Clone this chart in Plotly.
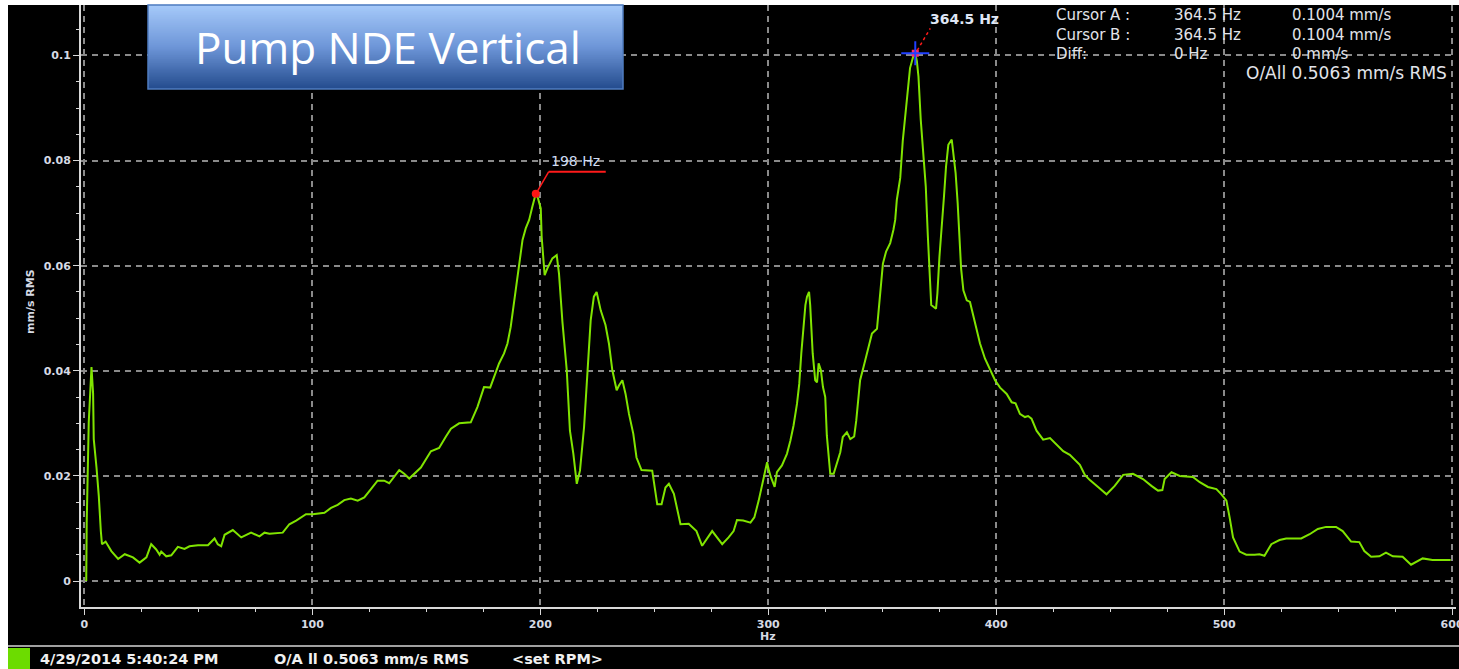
import plotly.graph_objects as go

W, H = 1459, 669

# ---- spectrum data (Hz, mm/s RMS) ----
freq_hz = [
    0.8, 1.0, 1.9, 3.1, 3.8, 4.1, 5.3, 6.3, 7.2, 7.7, 9.3, 11.8, 14.8, 17.7, 21.3,
    24.2, 27.2, 29.3, 31.5, 33.0, 33.7, 35.9, 38.1, 41.0, 43.9, 46.1, 49.8, 54.2,
    57.1, 58.5, 60.0, 61.5, 65.1, 68.8, 73.1, 76.8, 79.0, 81.2, 87.0, 89.9, 92.9,
    97.2, 100.2, 105.3, 108.2, 111.1, 114.0, 116.9, 119.9, 122.8, 125.7, 128.6,
    131.5, 133.7, 138.1, 140.3, 142.5, 144.7, 147.6, 152.0, 155.6, 158.6, 160.8,
    164.4, 169.5, 172.4, 175.3, 178.0, 180.5, 181.9, 184.1, 185.6, 187.0, 188.0,
    189.2, 190.2, 191.1, 192.2, 193.6, 195.1, 196.5, 198.0, 199.0, 200.2, 200.6,
    201.9, 203.1, 205.3, 207.2, 208.2, 209.7, 211.6, 213.0, 214.5, 216.0, 217.4,
    219.2, 220.6, 222.1, 223.5, 224.7, 226.5, 228.6, 230.1, 231.6, 233.5, 234.5,
    236.0, 237.4, 238.9, 240.8, 242.2, 244.4, 249.1, 251.3, 253.2, 254.9, 256.4,
    258.6, 261.5, 265.1, 268.5, 271.0, 275.4, 279.8, 282.6, 284.8, 286.3, 289.0,
    292.2, 293.9, 295.8, 297.3, 298.7, 299.5, 300.3, 301.2, 302.8, 303.8, 306.0,
    308.2, 309.7, 311.1, 312.6, 313.6, 314.5, 315.5, 316.3, 317.0, 317.9, 318.4,
    319.5, 320.6, 321.4, 322.1, 323.1, 324.0, 325.0, 325.7, 326.5, 327.2, 328.7,
    330.1, 331.6, 332.7, 334.5, 336.0, 337.7, 338.6, 339.6, 340.3, 341.8, 343.3,
    344.5, 345.5, 347.7, 348.4, 349.4, 350.3, 351.7, 353.5, 354.9, 355.7, 356.4,
    357.9, 359.0, 360.1, 361.1, 362.2, 363.6, 364.5, 365.2, 365.9, 366.9, 368.0,
    369.1, 370.0, 371.0, 371.5, 373.6, 374.2, 375.1, 376.1, 377.1, 378.0, 379.0,
    380.5, 381.2, 382.2, 383.1, 383.8, 384.6, 385.6, 387.1, 388.5, 390.0, 391.4,
    392.9, 395.1, 397.3, 399.5, 401.7, 404.6, 406.8, 408.5, 410.4, 412.6, 414.0,
    415.5, 417.7, 420.6, 423.6, 426.5, 429.4, 432.3, 436.7, 438.9, 441.1, 444.7,
    448.4, 452.0, 455.7, 460.0, 464.4, 468.1, 471.0, 472.9, 473.9, 476.9, 480.5,
    486.3, 489.3, 492.9, 496.6, 498.8, 501.0, 502.4, 503.9, 506.8, 509.7, 513.4,
    515.5, 517.7, 520.7, 524.3, 527.2, 533.8, 537.5, 541.1, 544.7, 549.1, 552.0,
    555.7, 559.3, 561.5, 564.5, 568.1, 571.0, 574.0, 578.3, 582.0, 587.1, 591.4,
    599.4,
]
amp_mm_s = [
    0.0, 0.0109, 0.0302, 0.0407, 0.0357, 0.0270, 0.0216, 0.0162, 0.0095, 0.0070,
    0.0075, 0.0057, 0.0042, 0.0051, 0.0045, 0.0035, 0.0045, 0.0070, 0.0060, 0.0050,
    0.0056, 0.0047, 0.0049, 0.0065, 0.0061, 0.0066, 0.0068, 0.0068, 0.0081, 0.0070,
    0.0066, 0.0088, 0.0097, 0.0083, 0.0092, 0.0085, 0.0092, 0.0090, 0.0092, 0.0108,
    0.0115, 0.0127, 0.0127, 0.0130, 0.0139, 0.0145, 0.0154, 0.0157, 0.0153, 0.0159,
    0.0175, 0.0191, 0.0191, 0.0186, 0.0211, 0.0204, 0.0195, 0.0204, 0.0216, 0.0247,
    0.0253, 0.0275, 0.0290, 0.0300, 0.0302, 0.0331, 0.0369, 0.0368, 0.0399, 0.0414,
    0.0433, 0.0452, 0.0483, 0.0515, 0.0558, 0.0585, 0.0620, 0.0649, 0.0671, 0.0687,
    0.0712, 0.0737, 0.0728, 0.0709, 0.0655, 0.0582, 0.0595, 0.0614, 0.0620, 0.0585,
    0.0493, 0.0401, 0.0286, 0.0242, 0.0185, 0.0210, 0.0293, 0.0394, 0.0496, 0.0541,
    0.0550, 0.0515, 0.0487, 0.0452, 0.0401, 0.0363, 0.0372, 0.0382, 0.0356, 0.0318,
    0.0280, 0.0235, 0.0211, 0.0210, 0.0146, 0.0146, 0.0178, 0.0185, 0.0166, 0.0108,
    0.0109, 0.0095, 0.0067, 0.0095, 0.0070, 0.0083, 0.0095, 0.0116, 0.0115, 0.0111,
    0.0121, 0.0153, 0.0185, 0.0210, 0.0226, 0.0210, 0.0197, 0.0179, 0.0207, 0.0220,
    0.0242, 0.0267, 0.0296, 0.0337, 0.0375, 0.0433, 0.0480, 0.0525, 0.0541, 0.0550,
    0.0525, 0.0433, 0.0382, 0.0378, 0.0414, 0.0401, 0.0369, 0.0350, 0.0277, 0.0242,
    0.0204, 0.0204, 0.0223, 0.0245, 0.0274, 0.0283, 0.0270, 0.0275, 0.0305, 0.0344,
    0.0382, 0.0407, 0.0431, 0.0455, 0.0471, 0.0480, 0.0515, 0.0563, 0.0604, 0.0627,
    0.0643, 0.0668, 0.0687, 0.0725, 0.0767, 0.0837, 0.0881, 0.0932, 0.0976, 0.0998,
    0.1004, 0.0989, 0.0960, 0.0878, 0.0814, 0.0751, 0.0658, 0.0582, 0.0525, 0.0518,
    0.0547, 0.0617, 0.0668, 0.0732, 0.0789, 0.0830, 0.0840, 0.0817, 0.0776, 0.0719,
    0.0665, 0.0595, 0.0553, 0.0534, 0.0531, 0.0503, 0.0474, 0.0452, 0.0423, 0.0401,
    0.0382, 0.0368, 0.0356, 0.0340, 0.0338, 0.0318, 0.0312, 0.0314, 0.0309, 0.0286,
    0.0269, 0.0272, 0.0260, 0.0247, 0.0240, 0.0221, 0.0202, 0.0192, 0.0179, 0.0165,
    0.0181, 0.0202, 0.0204, 0.0194, 0.0181, 0.0172, 0.0173, 0.0194, 0.0207, 0.0200,
    0.0198, 0.0188, 0.0179, 0.0175, 0.0165, 0.0153, 0.0121, 0.0083, 0.0056, 0.0050,
    0.0050, 0.0051, 0.0048, 0.0070, 0.0078, 0.0081, 0.0081, 0.0089, 0.0099, 0.0103,
    0.0103, 0.0095, 0.0075, 0.0074, 0.0057, 0.0046, 0.0047, 0.0054, 0.0047, 0.0046,
    0.0031, 0.0043, 0.0040, 0.0040,
]

# axis ticks
x_ticks = [0, 100, 200, 300, 400, 500, 600]
x_tick_text = ["0", "100", "200", "300", "400", "500", "600"]
y_ticks = [0, 0.02, 0.04, 0.06, 0.08, 0.1]
y_tick_text = ["0", "0.02", "0.04", "0.06", "0.08", "0.1"]

# harmonic marker and cursors
marker_hz = 198.0
cursor_a = (364.5, 0.1004)
cursor_b = (364.5, 0.1004)
overall_rms = 0.5063
status_time = "4/29/2014 5:40:24 PM"
chart_title = "Pump NDE Vertical"

marker_amp = amp_mm_s[freq_hz.index(marker_hz)]


def fx(x):
    return x / W


def fy(y):
    return 1 - y / H


TXT = "#d6dae4"
AX = "#d8d8d8"
GRID = "#8a8a8a"
TICKFONT = dict(family="DejaVu Sans", size=11, color=TXT, weight="bold")

fig = go.Figure()

fig.add_trace(go.Scatter(
    x=freq_hz, y=amp_mm_s, mode="lines",
    line=dict(color="#80e400", width=2), hoverinfo="skip", showlegend=False,
))
fig.add_trace(go.Scatter(
    x=[marker_hz], y=[marker_amp], mode="markers",
    marker=dict(color="#ff1414", size=8, symbol="circle"),
    hoverinfo="skip", showlegend=False,
))
fig.add_trace(go.Scatter(
    x=[cursor_a[0]], y=[cursor_a[1]], mode="markers",
    marker=dict(color="#ff2a6e", size=7, symbol="square"),
    hoverinfo="skip", showlegend=False,
))

shapes = []
annotations = []

# white frame strips around the instrument panel
shapes.append(dict(type="rect", xref="paper", yref="paper", x0=0, x1=fx(8), y0=0, y1=1,
                   fillcolor="white", line_width=0, layer="above"))
shapes.append(dict(type="rect", xref="paper", yref="paper", x0=0, x1=1, y0=fy(5), y1=1,
                   fillcolor="white", line_width=0, layer="above"))

# status bar
shapes.append(dict(type="line", xref="paper", yref="paper", x0=fx(8), x1=1, y0=fy(646), y1=fy(646),
                   line=dict(color="#a0a0a0", width=2), layer="above"))
shapes.append(dict(type="rect", xref="paper", yref="paper", x0=fx(8), x1=fx(30), y0=0, y1=fy(648),
                   fillcolor="#6cdc00", line_width=0, layer="above"))

# leader for the harmonic marker
shapes.append(dict(type="line", xref="x", yref="y", xsizemode="pixel", ysizemode="pixel",
                   xanchor=marker_hz, yanchor=marker_amp, x0=2, y0=3, x1=13, y1=22,
                   line=dict(color="#ff1a1a", width=1.5), layer="above"))
shapes.append(dict(type="line", xref="x", yref="y", xsizemode="pixel", ysizemode="pixel",
                   xanchor=marker_hz, yanchor=marker_amp, x0=13, y0=22, x1=70, y1=22,
                   line=dict(color="#ff1a1a", width=2), layer="above"))
annotations.append(dict(x=marker_hz, y=marker_amp, xref="x", yref="y", xshift=13, yshift=33,
                        xanchor="left", yanchor="middle", showarrow=False,
                        text="%g Hz" % marker_hz,
                        font=dict(family="DejaVu Sans", size=14, color="#cfdcf2")))

# cursor crosshair and leader
shapes.append(dict(type="line", xref="x", yref="y", xsizemode="pixel", ysizemode="pixel",
                   xanchor=cursor_a[0], yanchor=cursor_a[1], x0=-14, y0=0, x1=14, y1=0,
                   line=dict(color="#2040ff", width=2), layer="above"))
shapes.append(dict(type="line", xref="x", yref="y", xsizemode="pixel", ysizemode="pixel",
                   xanchor=cursor_a[0], yanchor=cursor_a[1], x0=0, y0=-12, x1=0, y1=12,
                   line=dict(color="#2040ff", width=2), layer="above"))
shapes.append(dict(type="line", xref="x", yref="y", xsizemode="pixel", ysizemode="pixel",
                   xanchor=cursor_a[0], yanchor=cursor_a[1], x0=2, y0=3, x1=15, y1=25,
                   line=dict(color="#ff1a1a", width=1.5, dash="dot"), layer="above"))
annotations.append(dict(x=cursor_a[0], y=cursor_a[1], xref="x", yref="y", xshift=13, yshift=34,
                        xanchor="left", yanchor="middle", showarrow=False,
                        text="%g Hz" % cursor_a[0],
                        font=dict(family="DejaVu Sans", size=14, color="#dfe6f4", weight="bold")))

# cursor readout block
rows = [
    ("Cursor A :", "%g Hz" % cursor_a[0], "%g mm/s" % cursor_a[1], 15),
    ("Cursor B :", "%g Hz" % cursor_b[0], "%g mm/s" % cursor_b[1], 35),
    ("Diff:", "%g Hz" % (cursor_b[0] - cursor_a[0]), "%g mm/s" % (cursor_b[1] - cursor_a[1]), 54),
]
cfont = dict(family="DejaVu Sans", size=15, color="#e2e4ea")
for lab, fq, am, yy in rows:
    for xx, t in ((1054, lab), (1172, fq), (1290, am)):
        annotations.append(dict(x=fx(xx), y=fy(yy), xref="paper", yref="paper",
                                xanchor="left", yanchor="middle", showarrow=False,
                                text=t, font=cfont))
annotations.append(dict(x=fx(1449), y=fy(73), xref="paper", yref="paper",
                        xanchor="right", yanchor="middle", showarrow=False,
                        text="O/All %.4f mm/s RMS" % overall_rms,
                        font=dict(family="DejaVu Sans", size=17, color="#e2e4ea")))

# status bar text
sfont = dict(family="DejaVu Sans", size=14.5, color="#f0f0f0", weight="bold")
for xx, t in ((38, status_time), (272, "O/A ll %.4f mm/s RMS" % overall_rms), (510, "<set RPM>")):
    annotations.append(dict(x=fx(xx), y=fy(659), xref="paper", yref="paper",
                            xanchor="left", yanchor="middle", showarrow=False,
                            text=t, font=sfont))

# axis titles
annotations.append(dict(x=fx(768), y=fy(636), xref="paper", yref="paper", showarrow=False,
                        xanchor="center", yanchor="middle", text="Hz", font=TICKFONT))
annotations.append(dict(x=fx(30), y=fy(302), xref="paper", yref="paper", showarrow=False,
                        xanchor="center", yanchor="middle",
                        text="mm/s RMS", textangle=-90, font=TICKFONT))

# title banner with vertical gradient
bx0, bx1, by0, by1 = 148, 623, 5, 89
top_c, mid_c, bot_c = (166, 202, 250), (110, 150, 216), (36, 76, 142)
n_bands = 42
for i in range(n_bands):
    t = (i + 0.5) / n_bands
    if t < 0.5:
        a, b, u = top_c, mid_c, t / 0.5
    else:
        a, b, u = mid_c, bot_c, (t - 0.5) / 0.5
    col = "rgb(%d,%d,%d)" % tuple(round(a[k] + (b[k] - a[k]) * u) for k in range(3))
    ya = by0 + (by1 - by0) * i / n_bands
    yb = by0 + (by1 - by0) * (i + 1) / n_bands
    shapes.append(dict(type="rect", xref="paper", yref="paper", x0=fx(bx0), x1=fx(bx1),
                       y0=fy(yb), y1=fy(ya) + 0.0005, fillcolor=col, line_width=0, layer="above"))
shapes.append(dict(type="rect", xref="paper", yref="paper", x0=fx(bx0), x1=fx(bx1),
                   y0=fy(by1), y1=fy(by0), fillcolor="rgba(0,0,0,0)",
                   line=dict(color="#4f7cc0", width=1.5), layer="above"))
annotations.append(dict(x=fx((bx0 + bx1) / 2 + 2), y=fy(47), xref="paper", yref="paper",
                        xanchor="center", yanchor="middle",
                        showarrow=False, text=chart_title,
                        font=dict(family="Open Sans", size=44, color="white")))

fig.update_layout(
    width=W, height=H, autosize=False,
    margin=dict(l=0, r=0, t=0, b=0, pad=0, autoexpand=False),
    paper_bgcolor="black", plot_bgcolor="black",
    showlegend=False,
    shapes=shapes, annotations=annotations,
    xaxis=dict(
        domain=[fx(81), fx(1455.5)], range=[-1.5, 601.5],
        automargin=False,
        tickmode="array", tickvals=x_ticks, ticktext=x_tick_text,
        ticks="outside", ticklen=6, tickwidth=1, tickcolor=AX,
        ticklabeloverflow="allow",
        showline=True, linecolor=AX, linewidth=2,
        showgrid=True, gridcolor=GRID, gridwidth=1.6, griddash="6px,5px",
        zeroline=False, tickfont=TICKFONT,
        minor=dict(tick0=0, dtick=25, ticks="outside", ticklen=3, tickcolor=AX, showgrid=False),
    ),
    yaxis=dict(
        domain=[fy(606.5), fy(5)], range=[-0.00485, 0.1096],
        automargin=False,
        tickmode="array", tickvals=y_ticks, ticktext=y_tick_text,
        ticks="outside", ticklen=6, tickwidth=1, tickcolor=AX,
        showline=True, linecolor=AX, linewidth=2,
        showgrid=True, gridcolor=GRID, gridwidth=1.6, griddash="6px,5px",
        zeroline=False, tickfont=TICKFONT,
        minor=dict(tick0=0, dtick=0.005, ticks="outside", ticklen=3, tickcolor=AX, showgrid=False),
    ),
)

fig.write_html("out.html")
